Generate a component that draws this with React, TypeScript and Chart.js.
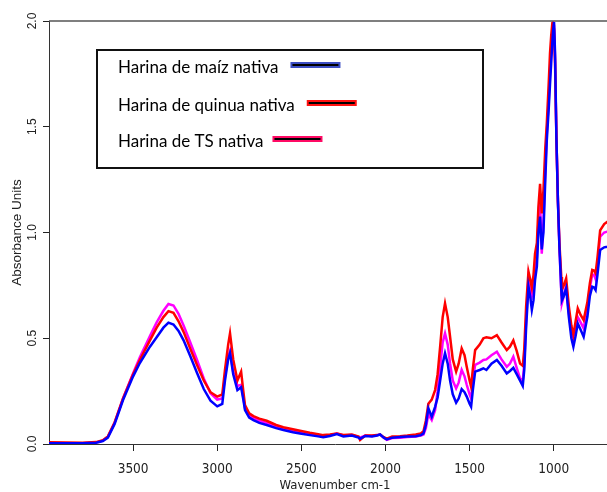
import { useEffect, useRef } from "react";
import { Chart, registerables } from "chart.js";

Chart.register(...registerables);

// Wavenumber (cm-1) sampling points
const wavenumbers = [
  4000, 3900, 3800, 3720, 3680, 3650, 3610, 3560, 3500, 3460, 3400, 3360, 3320, 3290, 3260, 3230, 3200, 3160, 3120,
  3080, 3040, 3000, 2970, 2954, 2935, 2924, 2905, 2880, 2858, 2845, 2835, 2810, 2785, 2750, 2706, 2650, 2607, 2550,
  2508, 2450, 2400, 2370, 2330, 2289, 2250, 2200, 2160, 2151, 2120, 2080, 2050, 2032, 2010, 1992, 1960, 1913, 1870,
  1820, 1790, 1774, 1760, 1745, 1725, 1705, 1690, 1675, 1660, 1646, 1630, 1616, 1600, 1580, 1565, 1547, 1530, 1517,
  1500, 1491, 1480, 1467, 1440, 1418, 1400, 1370, 1338, 1310, 1279, 1260, 1240, 1220, 1200, 1184, 1175, 1164, 1150,
  1140, 1130, 1120, 1111, 1100, 1091, 1081, 1071, 1061, 1050, 1041, 1030, 1022, 1015, 1008, 1003, 998, 992, 984, 975,
  966, 955, 951, 940, 926, 910, 895, 883, 870, 857, 840, 822, 800, 785, 771, 760, 751, 740, 724, 700, 682, 650,
];

const maizValues = [
  0.004, 0.004, 0.003, 0.006, 0.014, 0.03, 0.095, 0.208, 0.32, 0.383, 0.46, 0.505, 0.55, 0.574, 0.565, 0.535, 0.49, 0.415, 0.336,
  0.26, 0.205, 0.178, 0.19, 0.3, 0.4, 0.43, 0.33, 0.255, 0.268, 0.21, 0.16, 0.125, 0.113, 0.1, 0.09, 0.075, 0.066, 0.056,
  0.05, 0.042, 0.036, 0.032, 0.038, 0.047, 0.036, 0.04, 0.03, 0.025, 0.038, 0.036, 0.04, 0.045, 0.03, 0.022, 0.03, 0.033, 0.035,
  0.037, 0.042, 0.05, 0.09, 0.169, 0.129, 0.176, 0.22, 0.3, 0.38, 0.429, 0.38, 0.3, 0.235, 0.195, 0.215, 0.259, 0.245, 0.224,
  0.19, 0.176, 0.26, 0.342, 0.35, 0.358, 0.35, 0.38, 0.397, 0.37, 0.334, 0.345, 0.36, 0.33, 0.3, 0.275, 0.35, 0.55, 0.744,
  0.7, 0.634, 0.68, 0.775, 0.84, 1.0, 1.075, 0.92, 1.0, 1.25, 1.437, 1.58, 1.7, 1.8, 1.9, 1.96, 1.995, 1.85, 1.45, 1.15,
  0.93, 0.73, 0.68, 0.7, 0.736, 0.6, 0.5, 0.46, 0.51, 0.57, 0.54, 0.507, 0.6, 0.7, 0.744, 0.74, 0.728, 0.8, 0.917, 0.93, 0.933, 0.94,
];

const quinuaValues = [
  0.008, 0.007, 0.006, 0.009, 0.018, 0.036, 0.102, 0.215, 0.33, 0.397, 0.49, 0.55, 0.6, 0.628, 0.62, 0.58, 0.53, 0.45, 0.373,
  0.3, 0.245, 0.224, 0.235, 0.35, 0.47, 0.523, 0.4, 0.3, 0.342, 0.25, 0.184, 0.145, 0.132, 0.12, 0.11, 0.09, 0.079, 0.07,
  0.063, 0.053, 0.046, 0.042, 0.045, 0.05, 0.043, 0.045, 0.035, 0.019, 0.04, 0.04, 0.042, 0.045, 0.032, 0.025, 0.035, 0.037, 0.04,
  0.045, 0.05, 0.06, 0.11, 0.19, 0.21, 0.255, 0.33, 0.46, 0.6, 0.665, 0.6, 0.507, 0.4, 0.342, 0.38, 0.452, 0.42, 0.365,
  0.3, 0.271, 0.36, 0.444, 0.47, 0.5, 0.505, 0.5, 0.515, 0.48, 0.444, 0.46, 0.49, 0.44, 0.38, 0.37, 0.45, 0.65, 0.815,
  0.78, 0.74, 0.8, 0.9, 0.95, 1.12, 1.23, 1.09, 1.2, 1.4, 1.516, 1.7, 1.847, 1.93, 1.99, 1.99, 1.96, 1.8, 1.45, 1.15,
  0.95, 0.79, 0.728, 0.75, 0.783, 0.65, 0.56, 0.515, 0.58, 0.641, 0.61, 0.586, 0.67, 0.76, 0.823, 0.82, 0.807, 0.88, 1.01, 1.04, 1.05, 1.06,
];

const tsValues = [
  0.005, 0.004, 0.004, 0.007, 0.016, 0.034, 0.1, 0.215, 0.335, 0.41, 0.51, 0.575, 0.63, 0.662, 0.655, 0.615, 0.56, 0.48, 0.397,
  0.31, 0.24, 0.21, 0.215, 0.32, 0.41, 0.44, 0.34, 0.275, 0.28, 0.22, 0.17, 0.135, 0.122, 0.11, 0.1, 0.083, 0.072, 0.063,
  0.056, 0.047, 0.04, 0.036, 0.042, 0.05, 0.04, 0.043, 0.034, 0.03, 0.04, 0.038, 0.042, 0.045, 0.03, 0.02, 0.028, 0.03, 0.033,
  0.036, 0.04, 0.045, 0.075, 0.14, 0.113, 0.16, 0.25, 0.365, 0.48, 0.523, 0.47, 0.38, 0.3, 0.263, 0.29, 0.35, 0.32, 0.28,
  0.235, 0.216, 0.3, 0.374, 0.385, 0.397, 0.4, 0.42, 0.436, 0.4, 0.365, 0.38, 0.413, 0.36, 0.31, 0.3, 0.38, 0.58, 0.785,
  0.74, 0.7, 0.74, 0.82, 0.88, 1.05, 1.14, 0.9, 1.05, 1.3, 1.47, 1.62, 1.76, 1.87, 1.95, 1.99, 1.98, 1.82, 1.45, 1.15,
  0.93, 0.72, 0.666, 0.7, 0.75, 0.62, 0.53, 0.49, 0.55, 0.6, 0.575, 0.547, 0.64, 0.74, 0.8, 0.8, 0.78, 0.85, 0.98, 1.0, 1.004, 1.01,
];

const seriesLabels = ["Harina de maíz nativa", "Harina de quinua nativa", "Harina de TS nativa"];
const seriesColors = ["#0000ff", "#ff0000", "#ff00ff"];
const legendSwatchColors = ["#3d4fc4", "#ff1010", "#ff0a64"];

const xTickValues = [3500, 3000, 2500, 2000, 1500, 1000];
const yTickValues = [0, 0.5, 1.0, 1.5, 2.0];

const xTitle = "Wavenumber cm-1";
const yTitle = "Absorbance Units";

const topBorderPlugin = {
  id: "topBorder",
  afterDraw(chart: any) {
    const { ctx, chartArea } = chart;
    ctx.save();
    ctx.strokeStyle = "#555";
    ctx.lineWidth = 1.5;
    ctx.beginPath();
    ctx.moveTo(chartArea.left, chartArea.top);
    ctx.lineTo(chart.width, chartArea.top);
    ctx.stroke();
    ctx.restore();
  },
};

const legendBoxPlugin = {
  id: "legendBox",
  afterDraw(chart: any) {
    const { ctx } = chart;
    ctx.save();
    ctx.fillStyle = "#ffffff";
    ctx.fillRect(97, 50, 386, 118);
    ctx.strokeStyle = "#111";
    ctx.lineWidth = 2;
    ctx.strokeRect(97, 50, 386, 118);
    ctx.font = "17px Lato, 'Open Sans', sans-serif";
    ctx.textBaseline = "alphabetic";
    ctx.textAlign = "left";
    const baselines = [73, 111, 147];
    const gaps = [12, 12, 9];
    chart.data.datasets.forEach((ds: any, i: number) => {
      const label = ds.label as string;
      ctx.fillStyle = "#000";
      ctx.fillText(label, 118, baselines[i]);
      const w = ctx.measureText(label).width;
      const sx = 118 + w + gaps[i];
      const cy = baselines[i] - 8;
      ctx.fillStyle = legendSwatchColors[i];
      ctx.fillRect(sx, cy - 3, 50, 6);
      ctx.fillStyle = "#000";
      ctx.fillRect(sx + 2, cy - 1, 46, 2);
    });
    ctx.restore();
  },
};

export default function App() {
  const canvasRef = useRef<HTMLCanvasElement | null>(null);

  useEffect(() => {
    if (!canvasRef.current) return;
    const datasets = [maizValues, quinuaValues, tsValues].map((vals, i) => ({
      label: seriesLabels[i],
      data: wavenumbers.map((w, j) => ({ x: w, y: vals[j] })),
      borderColor: seriesColors[i],
      backgroundColor: seriesColors[i],
      borderWidth: 2.5,
      pointRadius: 0,
      showLine: true,
      tension: 0,
      fill: false,
    }));

    const chart = new Chart(canvasRef.current, {
      type: "scatter",
      data: { datasets },
      options: {
        animation: false,
        responsive: false,
        devicePixelRatio: 1,
        layout: { padding: { left: 0, right: 0, top: 21, bottom: 0 } },
        plugins: {
          legend: { display: false },
          tooltip: { enabled: false },
        },
        scales: {
          x: {
            type: "linear",
            reverse: true,
            min: 600,
            max: 4000,
            afterBuildTicks: (scale: any) => {
              scale.ticks = xTickValues.map((v) => ({ value: v }));
            },
            afterFit: (scale: any) => {
              scale.height = 48;
            },
            grid: { drawOnChartArea: false, drawTicks: true, tickLength: 7, color: "#222" },
            border: { display: true, color: "#333", width: 1 },
            ticks: {
              color: "#222",
              padding: 10,
              maxRotation: 0,
              autoSkip: false,
              font: { family: "'Liberation Sans Narrow', 'DejaVu Sans Condensed', 'Liberation Sans', sans-serif", size: 13.5 },
              callback: (v: any) => String(v),
            },
            title: {
              display: true,
              text: xTitle,
              color: "#222",
              padding: { top: 0, bottom: 0 },
              font: { family: "'Liberation Sans Narrow', 'DejaVu Sans Condensed', 'Liberation Sans', sans-serif", size: 13, lineHeight: 1 },
            },
          },
          y: {
            type: "linear",
            min: 0,
            max: 2,
            afterBuildTicks: (scale: any) => {
              scale.ticks = yTickValues.map((v) => ({ value: v }));
            },
            afterFit: (scale: any) => {
              scale.width = 49;
            },
            grid: { drawOnChartArea: false, drawTicks: true, tickLength: 6, color: "#222" },
            border: { display: true, color: "#333", width: 1 },
            ticks: {
              color: "#222",
              padding: 2,
              minRotation: 90,
              maxRotation: 90,
              crossAlign: "center",
              autoSkip: false,
              font: { family: "'Liberation Sans', Arial, sans-serif", size: 12 },
              callback: (v: any) => Number(v).toFixed(1),
            },
            title: {
              display: true,
              text: yTitle,
              color: "#222",
              padding: { top: 9, bottom: 0 },
              font: { family: "'Liberation Sans', Arial, sans-serif", size: 13.5, lineHeight: 1.2 },
            },
          },
        },
      } as any,
      plugins: [topBorderPlugin, legendBoxPlugin],
    });
    return () => chart.destroy();
  }, []);

  // The plot's right end (600 cm-1) lies beyond the window edge, as in the cropped reference.
  return (
    <canvas
      ref={canvasRef}
      width={621}
      height={492}
      style={{ position: "fixed", left: 0, top: 0, width: 621, height: 492, display: "block", background: "#fff" }}
    />
  );
}
